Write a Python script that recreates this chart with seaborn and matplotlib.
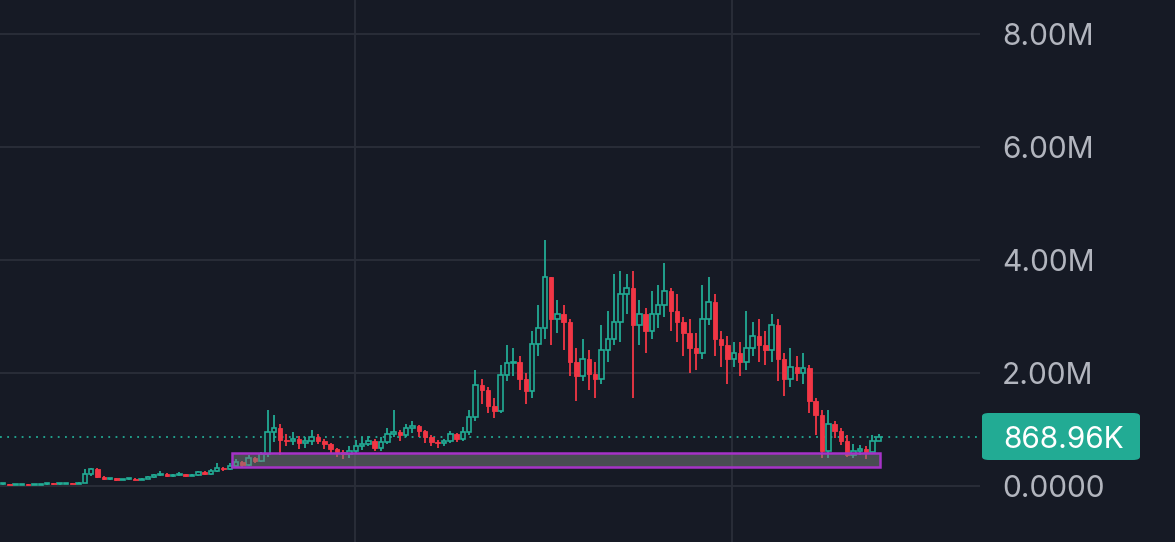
import numpy as np
import pandas as pd
import matplotlib
matplotlib.use("Agg")
import matplotlib.pyplot as plt
from matplotlib.patches import FancyBboxPatch
import seaborn as sns

# price data in millions, one candle per period
opens = [0.03, 0.03, 0.02, 0.02, 0.03, 0.02, 0.02, 0.03, 0.04, 0.03, 0.04, 0.05, 0.04,
         0.06, 0.22, 0.30,
         0.16, 0.12, 0.14, 0.11, 0.12, 0.13, 0.11, 0.13, 0.16,
         0.19, 0.22, 0.18, 0.19, 0.21, 0.18, 0.20,
         0.24, 0.22, 0.26, 0.31, 0.30,
         0.36, 0.42, 0.38, 0.50, 0.44,
         0.56, 0.95, 1.02,
         0.82, 0.80, 0.84, 0.76, 0.80, 0.86,
         0.80, 0.74, 0.66, 0.60,
         0.56, 0.62, 0.70, 0.74,
         0.80, 0.68, 0.78, 0.92, 0.96,
         0.90, 1.02, 1.06,
         0.98, 0.86, 0.78, 0.76,
         0.80, 0.92, 0.84,
         0.96, 1.22, 1.78,
         1.70, 1.42, 1.32,
         1.96, 2.18, 2.20,
         1.90, 1.68, 2.52,
         2.80, 3.70, 2.95, 3.05,
         2.90, 2.20, 1.95, 2.25, 1.98,
         1.90, 2.40, 2.60, 2.90, 3.40,
         3.50, 2.85, 3.05, 2.75, 3.05, 3.20,
         3.45, 3.10, 2.90, 2.70, 2.45,
         2.35, 2.95, 3.25,
         2.60, 2.50, 2.25, 2.35,
         2.20, 2.45, 2.65,
         2.50, 2.40, 2.85,
         2.25, 1.90, 2.10,
         2.00, 2.08, 1.50,
         1.25, 0.62, 1.10,
         0.98, 0.80, 0.55, 0.62,
         0.66, 0.60, 0.80]
closes = [0.03, 0.02, 0.02, 0.03, 0.02, 0.02, 0.03, 0.04, 0.03, 0.04, 0.05, 0.04, 0.06,
          0.22, 0.30, 0.16,
          0.12, 0.14, 0.11, 0.12, 0.13, 0.11, 0.13, 0.16, 0.19,
          0.22, 0.18, 0.19, 0.21, 0.18, 0.20, 0.24,
          0.22, 0.26, 0.31, 0.30, 0.36,
          0.42, 0.38, 0.50, 0.44, 0.56,
          0.95, 1.02, 0.82,
          0.80, 0.84, 0.76, 0.80, 0.86, 0.80,
          0.74, 0.66, 0.60, 0.56,
          0.62, 0.70, 0.74, 0.80,
          0.68, 0.78, 0.92, 0.96, 0.90,
          1.02, 1.06, 0.98,
          0.86, 0.78, 0.76, 0.80,
          0.92, 0.84, 0.96,
          1.22, 1.78, 1.70,
          1.42, 1.32, 1.96,
          2.18, 2.20, 1.90,
          1.68, 2.52, 2.80,
          3.70, 2.95, 3.05, 2.90,
          2.20, 1.95, 2.25, 1.98, 1.90,
          2.40, 2.60, 2.90, 3.40, 3.50,
          2.85, 3.05, 2.75, 3.05, 3.20, 3.45,
          3.10, 2.90, 2.70, 2.45, 2.35,
          2.95, 3.25, 2.60,
          2.50, 2.25, 2.35, 2.20,
          2.45, 2.65, 2.50,
          2.40, 2.85, 2.25,
          1.90, 2.10, 2.00,
          2.08, 1.50, 1.25,
          0.62, 1.10, 0.98,
          0.80, 0.55, 0.62, 0.66,
          0.60, 0.80, 0.87]
highs = [0.04, 0.04, 0.03, 0.04, 0.04, 0.03, 0.04, 0.05, 0.05, 0.05, 0.06, 0.06, 0.07,
         0.30, 0.32, 0.31,
         0.17, 0.15, 0.15, 0.13, 0.14, 0.14, 0.14, 0.18, 0.21,
         0.26, 0.23, 0.21, 0.24, 0.22, 0.22, 0.27,
         0.26, 0.30, 0.40, 0.34, 0.40,
         0.48, 0.44, 0.55, 0.52, 0.60,
         1.35, 1.25, 1.10,
         0.92, 0.96, 0.88, 0.86, 1.00, 0.92,
         0.84, 0.76, 0.68, 0.64,
         0.70, 0.82, 0.86, 0.88,
         0.84, 0.86, 1.02, 1.35, 1.00,
         1.10, 1.15, 1.08,
         1.00, 0.90, 0.82, 0.84,
         0.98, 0.94, 1.05,
         1.35, 2.05, 1.90,
         1.75, 1.55, 2.15,
         2.50, 2.45, 2.30,
         2.00, 2.75, 3.20,
         4.35, 3.70, 3.30, 3.20,
         2.95, 2.45, 2.60, 2.40, 2.20,
         2.85, 3.10, 3.75, 3.80, 3.75,
         3.80, 3.30, 3.15, 3.45, 3.55, 3.95,
         3.50, 3.40, 3.00, 2.95, 2.70,
         3.55, 3.70, 3.40,
         2.75, 2.65, 2.55, 2.55,
         3.10, 2.90, 2.95,
         2.75, 3.05, 2.95,
         2.35, 2.45, 2.30,
         2.35, 2.15, 1.55,
         1.35, 1.35, 1.15,
         1.02, 0.90, 0.75, 0.72,
         0.70, 0.90, 0.92]
lows = [0.01, 0.01, 0.01, 0.01, 0.01, 0.01, 0.01, 0.02, 0.02, 0.02, 0.03, 0.03, 0.03,
        0.05, 0.18, 0.14,
        0.10, 0.11, 0.09, 0.10, 0.11, 0.10, 0.10, 0.12, 0.15,
        0.17, 0.16, 0.16, 0.17, 0.16, 0.17, 0.18,
        0.19, 0.20, 0.24, 0.27, 0.28,
        0.33, 0.34, 0.36, 0.40, 0.42,
        0.52, 0.78, 0.55,
        0.70, 0.72, 0.66, 0.68, 0.72, 0.74,
        0.66, 0.58, 0.52, 0.48,
        0.50, 0.56, 0.64, 0.70,
        0.62, 0.62, 0.74, 0.86, 0.80,
        0.86, 0.94, 0.86,
        0.76, 0.70, 0.68, 0.70,
        0.76, 0.78, 0.80,
        0.90, 1.15, 1.45,
        1.30, 1.20, 1.30,
        1.85, 1.95, 1.70,
        1.45, 1.55, 2.30,
        2.60, 2.50, 2.70, 2.40,
        1.95, 1.50, 1.85, 1.70, 1.55,
        1.80, 2.20, 2.50, 2.55, 3.05,
        1.55, 2.50, 2.35, 2.60, 2.80, 3.00,
        2.75, 2.55, 2.30, 2.00, 2.05,
        2.25, 2.85, 2.30,
        2.10, 1.80, 2.10, 1.95,
        2.05, 2.30, 2.20,
        2.15, 2.20, 1.85,
        1.60, 1.75, 1.85,
        1.80, 1.30, 0.90,
        0.50, 0.50, 0.85,
        0.72, 0.52, 0.50, 0.55,
        0.48, 0.60, 0.80]

last_price = 0.86896
last_label = "868.96K"
zone_start, zone_end = 36.35, 139.2
zone_low, zone_high = 0.336, 0.584
y_ticks = [0, 2, 4, 6, 8]
y_labels = ["0.0000", "2.00M", "4.00M", "6.00M", "8.00M"]
time_lines = [55.9, 115.7]

bg = "#161a25"
up = "#22ab94"
down = "#f23645"
grid = "#2a2e39"
txt = "#b2b5be"

sns.set_theme(style="dark", rc={"axes.facecolor": bg, "figure.facecolor": bg})
plt.rcParams["font.family"] = ["Inter", "DejaVu Sans"]

df = pd.DataFrame({"open": opens, "high": highs, "low": lows, "close": closes})
df["x"] = np.arange(len(df))
df["rise"] = df["close"] >= df["open"]

fig = plt.figure(figsize=(11.75, 5.42), dpi=100)
ax = fig.add_axes([0, 0, 980 / 1175, 1])

for v in y_ticks:
    ax.axhline(v, color=grid, lw=1.3, zorder=0)
for v in time_lines:
    ax.axvline(v, color=grid, lw=1.3, zorder=0)

# wicks
ax.vlines(df["x"], df["low"], df["high"],
          colors=np.where(df["rise"], up, down), lw=1.3, zorder=2)

# bodies: hollow green, filled red
w = 0.72
bot = df[["open", "close"]].min(axis=1)
hgt = (df["close"] - df["open"]).abs().clip(lower=0.02)
r = df["rise"]
ax.bar(df["x"][r], hgt[r], bottom=bot[r], width=w, facecolor=bg,
       edgecolor=up, linewidth=1.2, zorder=3)
ax.bar(df["x"][~r], hgt[~r], bottom=bot[~r], width=w, facecolor=down,
       edgecolor=down, linewidth=0.6, zorder=3)

# support zone
ax.add_patch(plt.Rectangle((zone_start, zone_low), zone_end - zone_start,
                           zone_high - zone_low, facecolor=(0.48, 0.50, 0.50, 0.5),
                           edgecolor="#a632c8", linewidth=1.8, zorder=4))

# last price line
ax.axhline(last_price, color=up, lw=1.3, ls=(0, (1, 3)), zorder=1)

ax.set_xlim(-0.476, 155.08)
ax.set_ylim(-0.991, 8.602)
ax.set_xticks([])
ax.yaxis.tick_right()
ax.set_yticks(y_ticks)
ax.set_yticklabels(y_labels)
ax.tick_params(axis="y", length=0, pad=16, labelsize=21.5, labelcolor=txt)
for s in ax.spines.values():
    s.set_visible(False)

# last price tag on the scale
W, H = 1175, 542
fig.patches.append(FancyBboxPatch((982 / W, 1 - 460 / H), 158 / W, 47 / H,
                                  boxstyle="round,pad=0,rounding_size=0.006",
                                  transform=fig.transFigure, facecolor=up,
                                  edgecolor="none", mutation_aspect=H / W * 2.2))
fig.text(1003 / W, 1 - 437 / H, last_label, ha="left", va="center_baseline",
         fontsize=21.5, color="white")

fig.savefig("out.png", dpi=100, facecolor=bg)
